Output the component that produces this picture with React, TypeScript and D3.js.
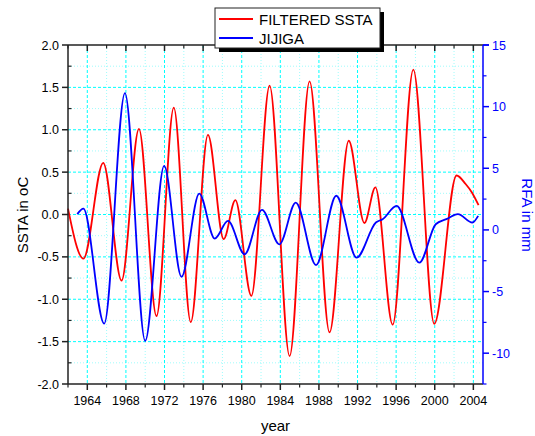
import React from "react";
import * as d3 from "d3";

const sstaYears = [1962.0, 1963.6, 1965.65, 1967.55, 1969.35, 1971.17, 1972.96, 1974.72, 1976.5, 1978.13, 1979.34, 1981.0, 1982.89, 1984.96, 1987.03, 1989.1, 1991.09, 1992.71, 1993.85, 1995.64, 1997.78, 1999.95, 2002.26, 2003.2, 2003.85, 2004.54];
const sstaValues = [0.07, -0.52, 0.61, -0.78, 1.01, -1.2, 1.26, -1.27, 0.94, -0.29, 0.17, -0.96, 1.52, -1.67, 1.57, -1.39, 0.87, -0.1, 0.32, -1.3, 1.71, -1.29, 0.46, 0.36, 0.26, 0.11];

const rfaYears = [1962.96, 1963.6, 1965.75, 1967.9, 1970.0, 1971.96, 1973.76, 1975.6, 1977.2, 1978.58, 1980.3, 1982.1, 1983.9, 1985.6, 1987.7, 1989.8, 1991.9, 1993.9, 1994.6, 1996.05, 1998.4, 2000.1, 2001.2, 2002.4, 2003.9, 2004.5];
const rfaValues = [1.28, 1.73, -7.6, 11.1, -9.0, 5.2, -3.8, 2.95, -0.7, 0.73, -1.98, 1.63, -1.17, 2.22, -2.85, 2.77, -2.25, 0.6, 0.87, 1.95, -2.66, 0.46, 0.87, 1.28, 0.6, 1.14];

const xMajorTicks = [1964, 1968, 1972, 1976, 1980, 1984, 1988, 1992, 1996, 2000, 2004];
const xMinorTicks = [1962, 1966, 1970, 1974, 1978, 1982, 1986, 1990, 1994, 1998, 2002];
const leftMajorTicks = [-2.0, -1.5, -1.0, -0.5, 0.0, 0.5, 1.0, 1.5, 2.0];
const leftMinorTicks = [-1.75, -1.25, -0.75, -0.25, 0.25, 0.75, 1.25, 1.75];
const rightMajorTicks = [-10, -5, 0, 5, 10, 15];
const rightMinorTicks = [-12.5, -7.5, -2.5, 2.5, 7.5, 12.5];

const seriesNames = ["FILTERED SSTA", "JIJIGA"];

const FONT = "'Liberation Sans', Arial, sans-serif";

export default function App() {
  const L = 68, R = 483, T = 45, B = 384;
  const x = d3.scaleLinear().domain([1962, 2005]).range([L, R]);
  const yL = d3.scaleLinear().domain([-2, 2]).range([B, T]);
  const yR = d3.scaleLinear().domain([-12.5, 15]).range([B, T]);

  const redLine = d3
    .line<number>()
    .x((_, i) => x(sstaYears[i]))
    .y((d) => yL(d))
    .curve(d3.curveMonotoneX)(sstaValues) as string;
  const blueLine = d3
    .line<number>()
    .x((_, i) => x(rfaYears[i]))
    .y((d) => yR(d))
    .curve(d3.curveMonotoneX)(rfaValues) as string;

  const cyan = "#00FFFF";
  const fmt = (v: number) => v.toFixed(1);

  return (
    <svg
      width={535}
      height={436}
      style={{ position: "absolute", left: 0, top: 0, background: "#fff" }}
      fontFamily={FONT}
    >
      {/* grid */}
      <g>
        {xMinorTicks.filter((t) => t > 1962).map((t) => (
          <line key={"gxm" + t} x1={x(t)} x2={x(t)} y1={T} y2={B} stroke="#9ffcfc" strokeWidth={1} strokeDasharray="1,2" />
        ))}
        {leftMinorTicks.map((t) => (
          <line key={"gym" + t} x1={L} x2={R} y1={yL(t)} y2={yL(t)} stroke="#9ffcfc" strokeWidth={1} strokeDasharray="1,2" />
        ))}
        {xMajorTicks.map((t) => (
          <line key={"gx" + t} x1={x(t)} x2={x(t)} y1={T} y2={B} stroke={cyan} strokeWidth={1} strokeDasharray="3,2" />
        ))}
        {leftMajorTicks.filter((t) => t > -2 && t < 2).map((t) => (
          <line key={"gy" + t} x1={L} x2={R} y1={yL(t)} y2={yL(t)} stroke={cyan} strokeWidth={1} strokeDasharray="3,2" />
        ))}
      </g>

      {/* curves */}
      <path d={redLine} fill="none" stroke="#FF0000" strokeWidth={1.8} />
      <path d={blueLine} fill="none" stroke="#0000FF" strokeWidth={1.8} />

      {/* axes frame */}
      <line x1={L} x2={R} y1={T} y2={T} stroke="#222" strokeWidth={1.5} />
      <line x1={L} x2={R} y1={B} y2={B} stroke="#222" strokeWidth={1.5} />
      <line x1={L} x2={L} y1={T} y2={B} stroke="#222" strokeWidth={1.5} />
      <line x1={R} x2={R} y1={T} y2={B} stroke="#0000FF" strokeWidth={1.5} />

      {/* bottom ticks */}
      {xMajorTicks.map((t) => (
        <g key={"bx" + t}>
          <line x1={x(t)} x2={x(t)} y1={B} y2={B + 6} stroke="#222" strokeWidth={1.5} />
          <line x1={x(t)} x2={x(t)} y1={T} y2={T + 6} stroke="#222" strokeWidth={1.5} />
          <text x={x(t)} y={405} fontSize={12.5} textAnchor="middle" fill="#000">
            {t}
          </text>
        </g>
      ))}
      {xMinorTicks.map((t) => (
        <g key={"bxm" + t}>
          <line x1={x(t)} x2={x(t)} y1={B} y2={B + 3.5} stroke="#222" strokeWidth={1.2} />
          <line x1={x(t)} x2={x(t)} y1={T} y2={T + 3.5} stroke="#222" strokeWidth={1.2} />
        </g>
      ))}

      {/* left ticks */}
      {leftMajorTicks.map((t) => (
        <g key={"ly" + t}>
          <line x1={L - 6} x2={L} y1={yL(t)} y2={yL(t)} stroke="#222" strokeWidth={1.5} />
          <text x={L - 9} y={yL(t) + 4.5} fontSize={12.5} textAnchor="end" fill="#000">
            {fmt(t)}
          </text>
        </g>
      ))}
      {leftMinorTicks.map((t) => (
        <line key={"lym" + t} x1={L} x2={L + 3.5} y1={yL(t)} y2={yL(t)} stroke="#222" strokeWidth={1.2} />
      ))}

      {/* right ticks */}
      {rightMajorTicks.map((t) => (
        <g key={"ry" + t}>
          <line x1={R} x2={R + 6} y1={yR(t)} y2={yR(t)} stroke="#0000FF" strokeWidth={1.5} />
          <text x={R + 9} y={yR(t) + 4.5} fontSize={12.5} textAnchor="start" fill="#0000FF">
            {t}
          </text>
        </g>
      ))}
      <line x1={R} x2={R + 6} y1={T} y2={T} stroke="#0000FF" strokeWidth={1.5} />
      {rightMinorTicks.map((t) => (
        <line key={"rym" + t} x1={R} x2={R + 3.5} y1={yR(t)} y2={yR(t)} stroke="#0000FF" strokeWidth={1.2} />
      ))}

      {/* axis titles */}
      <text x={(L + R) / 2 + 0} y={431} fontSize={15} textAnchor="middle" fill="#000">
        year
      </text>
      <text transform={`translate(28,215) rotate(-90)`} fontSize={15} textAnchor="middle" fill="#000">
        SSTA in oC
      </text>
      <text transform={`translate(522,215) rotate(90)`} fontSize={15} textAnchor="middle" fill="#0000FF">
        RFA in mm
      </text>

      {/* legend */}
      <g>
        <rect x={219} y={12} width={165} height={40} fill="#000" />
        <rect x={215} y={8} width={165} height={40} fill="#fff" stroke="#222" strokeWidth={1} />
        <line x1={219} x2={253} y1={19} y2={19} stroke="#FF0000" strokeWidth={1.8} />
        <text x={259} y={25} fontSize={15} fill="#000">
          {seriesNames[0]}
        </text>
        <line x1={219} x2={253} y1={38} y2={38} stroke="#0000FF" strokeWidth={1.8} />
        <text x={259} y={44} fontSize={15} fill="#000">
          {seriesNames[1]}
        </text>
      </g>
    </svg>
  );
}
